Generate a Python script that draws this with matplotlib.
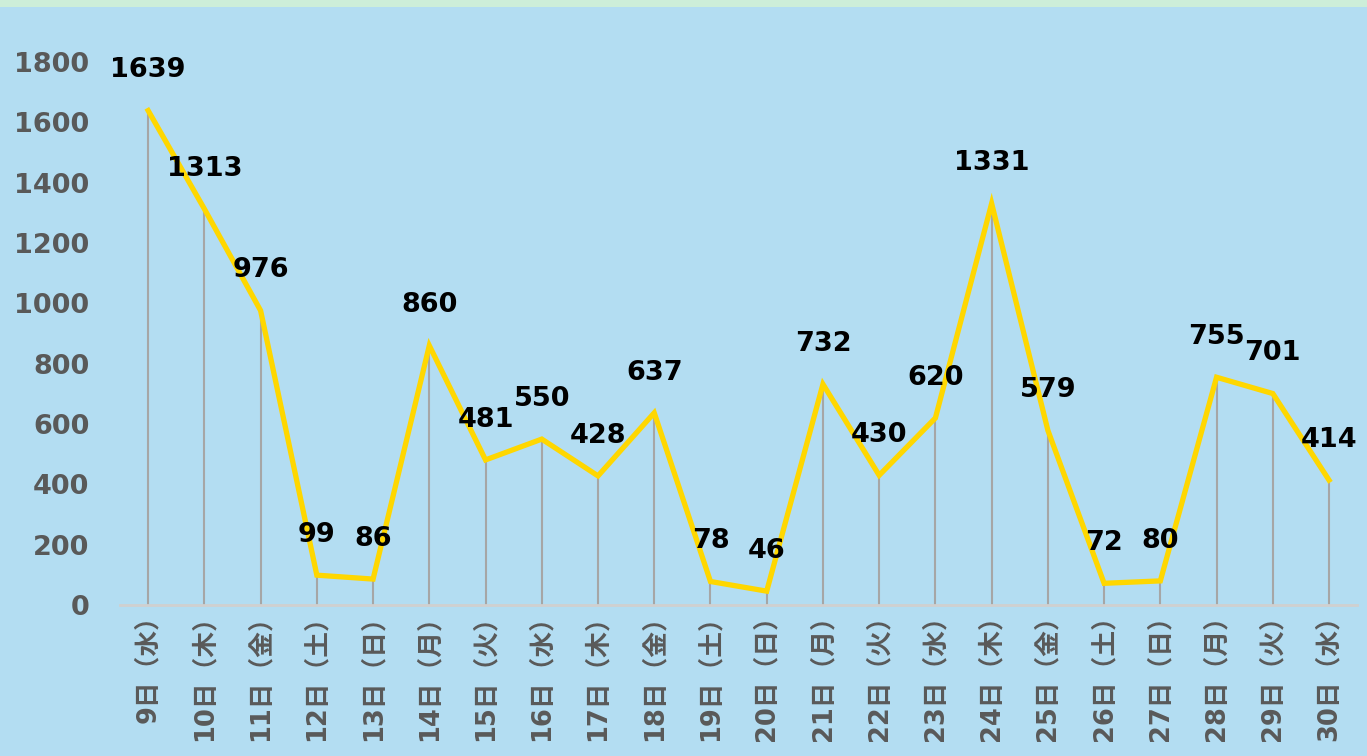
import matplotlib
matplotlib.use("Agg")
import matplotlib.pyplot as plt
from matplotlib.patches import Rectangle

# daily counts
days = ["9日（水）", "10日（木）", "11日（金）", "12日（土）", "13日（日）", "14日（月）",
        "15日（火）", "16日（水）", "17日（木）", "18日（金）", "19日（土）", "20日（日）",
        "21日（月）", "22日（火）", "23日（水）", "24日（木）", "25日（金）", "26日（土）",
        "27日（日）", "28日（月）", "29日（火）", "30日（水）"]
counts = [1639, 1313, 976, 99, 86, 860, 481, 550, 428, 637, 78, 46,
          732, 430, 620, 1331, 579, 72, 80, 755, 701, 414]
y_ticks = [0, 200, 400, 600, 800, 1000, 1200, 1400, 1600, 1800]

BG = "#b3ddf2"
GREY = "#595959"

fig = plt.figure(figsize=(13.67, 7.56), dpi=100, facecolor=BG)
fig.patches.append(Rectangle((0, 0.991), 1, 0.009, transform=fig.transFigure,
                             facecolor="#cdeed9", edgecolor="none"))

ax = fig.add_axes([0.0878, 0.1997, 0.905, 0.7183])
ax.set_facecolor(BG)

x = list(range(len(counts)))
ax.vlines(x, 0, counts, color="#a6a6a6", linewidth=1.5, zorder=2)
ax.plot(x, counts, color="#ffd700", linewidth=3.8, zorder=3, solid_joinstyle="miter")

for xi, v in zip(x, counts):
    ax.annotate(str(v), (xi, v), xytext=(0, 29), textcoords="offset points",
                ha="center", va="center", fontsize=19.5, fontweight="bold",
                color="black", zorder=4)

ax.set_xlim(-0.5, len(counts) - 0.5)
ax.set_ylim(0, 1800)
ax.set_yticks(y_ticks)
ax.set_yticklabels([str(t) for t in y_ticks], fontsize=19.5, fontweight="bold", color=GREY)
ax.set_xticks(x)
ax.set_xticklabels(days, rotation=90, fontsize=18.5, fontweight="bold", color=GREY,
                   family=["DejaVu Sans", "Noto Sans CJK JP"])
ax.tick_params(axis="y", length=0, pad=22)
ax.tick_params(axis="x", length=0, pad=-2)

for s in ["top", "right", "left"]:
    ax.spines[s].set_visible(False)
ax.spines["bottom"].set_color("#d0d0d0")
ax.spines["bottom"].set_linewidth(2)

fig.savefig("out.png", dpi=100, facecolor=BG)
